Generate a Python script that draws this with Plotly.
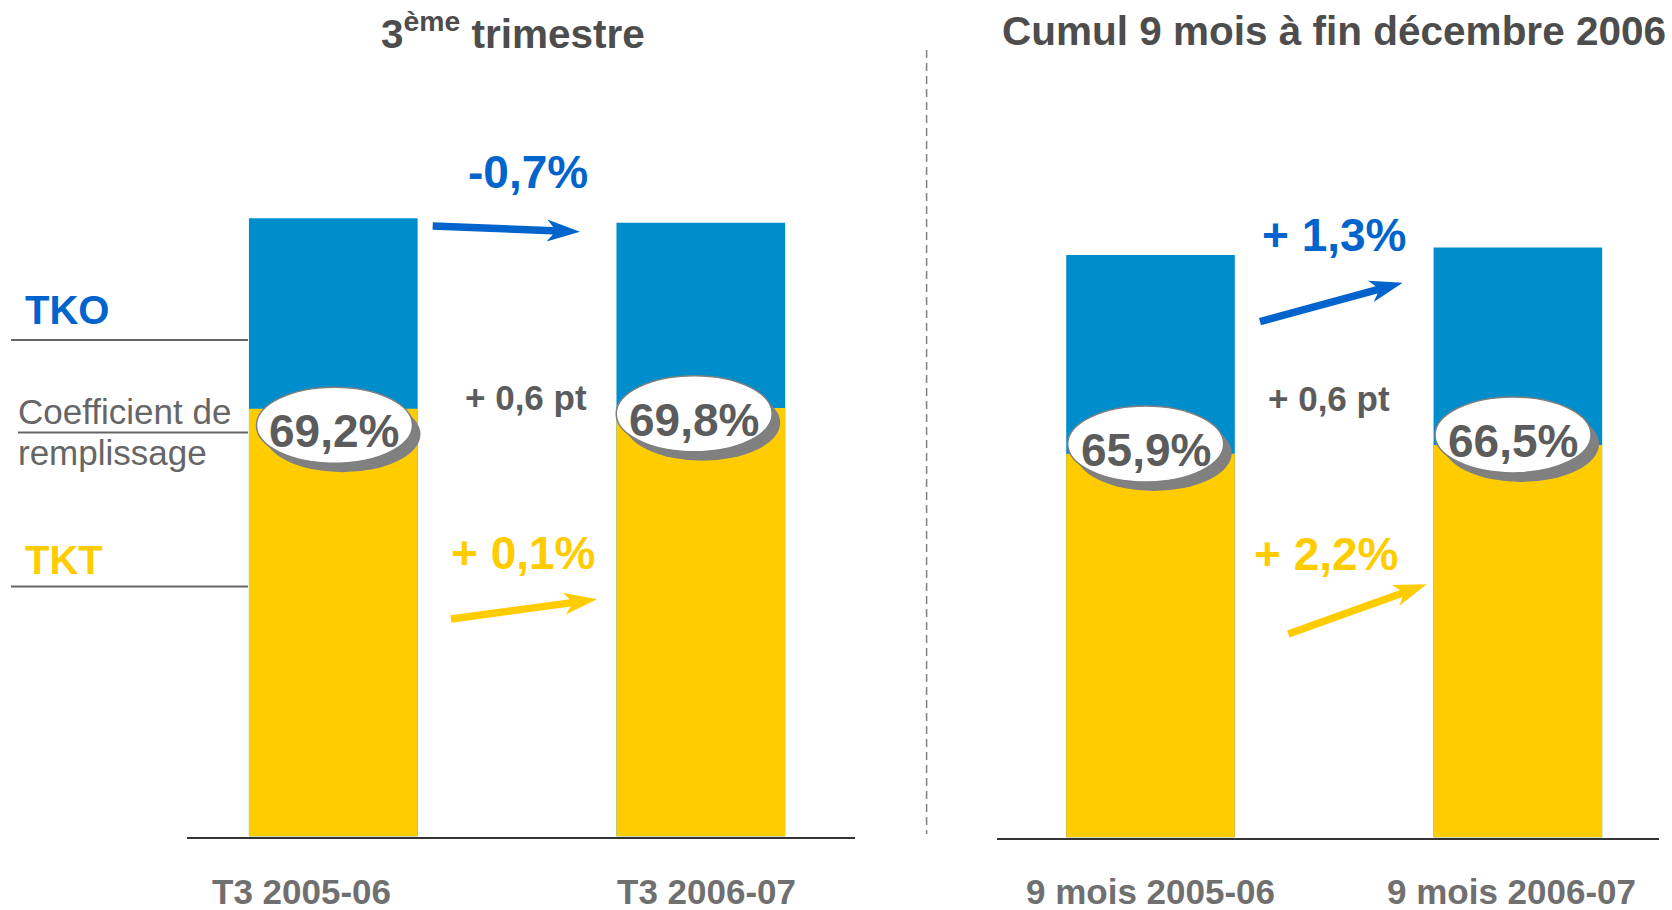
import plotly.graph_objects as go

W, H = 1672, 910

# ---------------- data (index: TKO of first period = 100) ----------------
q3_periods = ["T3 2005-06", "T3 2006-07"]
q3_tko = [100.0, 99.3]
q3_tkt = [69.2, 69.3]
q3_load_factor = [69.2, 69.8]
q3_changes = ["-0,7%", "+ 0,6 pt", "+ 0,1%"]      # TKO, coefficient, TKT

cum_periods = ["9 mois 2005-06", "9 mois 2006-07"]
cum_tko = [100.0, 101.3]
cum_tkt = [65.9, 67.4]
cum_load_factor = [65.9, 66.5]
cum_changes = ["+ 1,3%", "+ 0,6 pt", "+ 2,2%"]

titles = ["3<sup>ème</sup> trimestre", "Cumul 9 mois à fin décembre 2006"]
row_labels = ["TKO", "Coefficient de", "remplissage", "TKT"]

# ---------------- styles ----------------
FONT = "Liberation Sans, Arial, sans-serif"
BLUE_BAR = "#008DCC"
YELLOW = "#FFCC00"
BLUE_TXT = "#0064CC"
GRAY_TITLE = "#4D4D4D"
GRAY_TICK = "#707070"
GRAY_LF = "#5C5C5C"
GRAY_LINE = "#666666"


def P(x, y):
    """pixel -> paper coordinates"""
    return x / W, 1 - y / H


fig = go.Figure()

panels = [
    dict(periods=q3_periods, tko=q3_tko, tkt=q3_tkt, lf=q3_load_factor,
         xa="x", ya="y"),
    dict(periods=cum_periods, tko=cum_tko, tkt=cum_tkt, lf=cum_load_factor,
         xa="x2", ya="y2"),
]

for p in panels:
    fig.add_trace(go.Bar(x=p["periods"], y=p["tko"], marker_color=BLUE_BAR,
                         marker_line_width=0, width=0.459, xaxis=p["xa"],
                         yaxis=p["ya"], hoverinfo="skip", showlegend=False))
    fig.add_trace(go.Bar(x=p["periods"], y=p["tkt"], marker_color=YELLOW,
                         marker_line_width=0, width=0.459, xaxis=p["xa"],
                         yaxis=p["ya"], hoverinfo="skip", showlegend=False))

shapes = []
annotations = []

# ellipse badges with load factor
badge_dx = [[1.2, -6.6], [-4.8, -4.8]]
badge_dy = [[-16.5, -5.6], [9.7, 10.0]]
EW, EH = 156, 76
for k, p in enumerate(panels):
    for i, name in enumerate(p["periods"]):
        dx, dy = badge_dx[k][i], badge_dy[k][i]
        common = dict(type="circle", xref=p["xa"], yref=p["ya"],
                      xsizemode="pixel", ysizemode="pixel",
                      xanchor=name, yanchor=p["tkt"][i], layer="above")
        shapes.append(dict(common, x0=dx - EW / 2 + 8, x1=dx + EW / 2 + 8,
                           y0=dy - EH / 2 - 9, y1=dy + EH / 2 - 9,
                           fillcolor="#808080", line=dict(width=0)))
        shapes.append(dict(common, x0=dx - EW / 2, x1=dx + EW / 2,
                           y0=dy - EH / 2, y1=dy + EH / 2,
                           fillcolor="white",
                           line=dict(color="#7F7F7F", width=1.5)))
        annotations.append(dict(
            x=name, y=p["tkt"][i], xref=p["xa"], yref=p["ya"],
            xanchor="center", yanchor="middle",
            xshift=dx, yshift=dy - 6, showarrow=False,
            text=f"{p['lf'][i]:.1f}%".replace(".", ","),
            font=dict(family=FONT, size=46, color=GRAY_LF, weight="bold")))

# category labels below the axes
tick_dx = [[-32, 6], [0, -6]]
for k, p in enumerate(panels):
    for i, name in enumerate(p["periods"]):
        annotations.append(dict(
            x=name, y=P(0, 891)[1], xref=p["xa"], yref="paper",
            xanchor="center", yanchor="middle",
            xshift=tick_dx[k][i], showarrow=False, text=name,
            font=dict(family=FONT, size=35, color=GRAY_TICK, weight="bold")))

# titles
for t, (cx, cy) in zip(titles, [(513, 31), (1334, 31)]):
    x, y = P(cx, cy)
    annotations.append(dict(x=x, y=y, xref="paper", yref="paper",
                            xanchor="center", yanchor="middle",
                            showarrow=False, text=t,
                            font=dict(family=FONT, size=40.5, color=GRAY_TITLE,
                                      weight="bold")))

# change labels
change_pos = [[(528, 172), (525.5, 397), (523, 552.5)],
              [(1334.5, 235), (1328.5, 398.5), (1326.5, 553.5)]]
change_col = [BLUE_TXT, GRAY_LF, YELLOW]
change_size = [46, 35, 46]
for labels, pos in zip([q3_changes, cum_changes], change_pos):
    for lab, (cx, cy), col, sz in zip(labels, pos, change_col, change_size):
        x, y = P(cx, cy)
        annotations.append(dict(x=x, y=y, xref="paper", yref="paper",
                                xanchor="center", yanchor="middle",
                                showarrow=False, text=lab,
                                font=dict(family=FONT, size=sz, color=col,
                                          weight="bold")))

# left-side row labels
row_style = [
    (23, 310, 40, BLUE_TXT, "bold"),
    (16, 412, 35, "#666666", "normal"),
    (16, 452, 35, "#666666", "normal"),
    (23, 560, 40, YELLOW, "bold"),
]
for lab, (lx, ly, sz, col, wt) in zip(row_labels, row_style):
    x, y = P(lx, ly)
    annotations.append(dict(x=x, y=y, xref="paper", yref="paper",
                            xanchor="left", yanchor="middle",
                            showarrow=False, text=lab,
                            font=dict(family=FONT, size=sz, color=col,
                                      weight=wt)))

# guide lines on the left
for x0, x1, yy in [(11, 248, 340), (18, 248, 432.5), (11, 248, 586.5)]:
    a, b = P(x0, yy)
    c, _ = P(x1, yy)
    shapes.append(dict(type="line", xref="paper", yref="paper",
                       x0=a, x1=c, y0=b, y1=b,
                       line=dict(color=GRAY_LINE, width=2)))

# dashed separator
sx, sy0 = P(926.6, 50)
_, sy1 = P(926.6, 834)
shapes.append(dict(type="line", xref="paper", yref="paper", x0=sx, x1=sx,
                   y0=sy0, y1=sy1,
                   line=dict(color="#808080", width=1.5, dash="8px,5px")))


# arrows drawn as filled polygons
def arrow_path(tail, head, w=7.5, hl=33, hj=27, hw=11):
    tx, ty = tail
    hx, hy = head
    L = ((hx - tx) ** 2 + (hy - ty) ** 2) ** 0.5
    ux, uy = (hx - tx) / L, (hy - ty) / L
    nx, ny = -uy, ux
    pts = [
        (tx + nx * w / 2, ty + ny * w / 2),
        (hx - ux * hj + nx * w / 2, hy - uy * hj + ny * w / 2),
        (hx - ux * hl + nx * hw, hy - uy * hl + ny * hw),
        (hx, hy),
        (hx - ux * hl - nx * hw, hy - uy * hl - ny * hw),
        (hx - ux * hj - nx * w / 2, hy - uy * hj - ny * w / 2),
        (tx - nx * w / 2, ty - ny * w / 2),
    ]
    pp = [P(x, y) for x, y in pts]
    return "M " + " L ".join(f"{x:.5f},{y:.5f}" for x, y in pp) + " Z"


arrows = [
    ((432.7, 226), (580, 231.7), BLUE_TXT),
    ((451, 619), (597, 599.3), YELLOW),
    ((1260, 321.7), (1402.7, 282.7), BLUE_TXT),
    ((1288.3, 634), (1426.7, 584.3), YELLOW),
]
for tail, head, col in arrows:
    shapes.append(dict(type="path", xref="paper", yref="paper",
                       path=arrow_path(tail, head), fillcolor=col,
                       line=dict(width=0)))

axis_common = dict(type="category", showline=True, linecolor="#333333",
                   linewidth=2, showticklabels=False, showgrid=False,
                   zeroline=False, ticks="", fixedrange=True)
yaxis_common = dict(visible=False, showgrid=False, zeroline=False,
                    fixedrange=True)

fig.update_layout(
    width=W, height=H,
    margin=dict(l=0, r=0, t=0, b=0),
    paper_bgcolor="white", plot_bgcolor="white",
    barmode="overlay", showlegend=False,
    xaxis=dict(axis_common, domain=[187 / W, 855 / W], range=[-0.398, 1.4195],
               anchor="y"),
    yaxis=dict(yaxis_common, domain=[1 - 836.5 / H, 1 - 100 / H],
               range=[0, 119.14], anchor="x"),
    xaxis2=dict(axis_common, domain=[997 / W, 1659 / W],
                range=[-0.4179, 1.3842], anchor="y2"),
    yaxis2=dict(yaxis_common, domain=[1 - 837.5 / H, 1 - 100 / H],
                range=[0, 126.61], anchor="x2"),
    shapes=shapes,
    annotations=annotations,
)

fig.write_html("out.html", config={"displayModeBar": False},
               post_script="document.body.style.margin='0';")
